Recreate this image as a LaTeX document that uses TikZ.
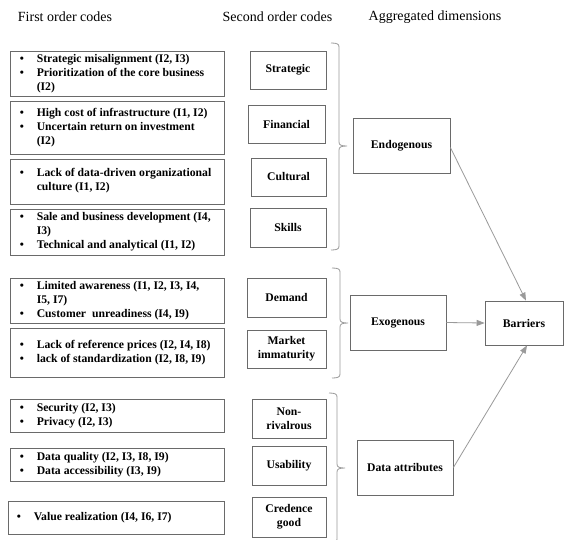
\documentclass[tikz,border=0pt]{standalone}
\usepackage{fontspec}
\setmainfont{Liberation Serif}
\usetikzlibrary{arrows.meta}
\definecolor{boxline}{HTML}{6A6A6A}
\definecolor{linegray}{HTML}{9A9A9A}
\newcommand{\bul}{\makebox[17pt][l]{•}}
\newcommand{\ind}{\hspace*{17pt}}
% brace: #1 = x of vertical line, #2 = top y, #3 = middle y, #4 = bottom y
\newcommand{\mybrace}[4]{%
  \draw[brc] (#1-8,#2) .. controls (#1-2,#2) and (#1,#2+1) .. (#1,#2+4)
    -- (#1,#3-4) .. controls (#1,#3-1) and (#1+2,#3) .. (#1+8,#3)
    .. controls (#1+2,#3) and (#1,#3+1) .. (#1,#3+4)
    -- (#1,#4-4) .. controls (#1,#4-1) and (#1-2,#4) .. (#1-8,#4);}
\begin{document}
\begin{tikzpicture}[x=1pt,y=-1pt,
  box/.style={draw=boxline,line width=0.8pt,inner sep=0pt,rectangle},
  codetext/.style={anchor=west,align=left,inner sep=0pt,font=\fontsize{11.7}{14}\selectfont\bfseries},
  ctr/.style={align=center,font=\fontsize{11.7}{14}\selectfont\bfseries},
  hdr/.style={font=\fontsize{14}{16}\selectfont},
  brc/.style={draw=linegray,line width=0.8pt},
  arr/.style={draw=linegray,line width=0.8pt,-{Triangle[length=8pt,width=6pt]}}]
\useasboundingbox (0,0) rectangle (564,539);
\fill[white] (0,0) rectangle (564,539);

% headers
\node[hdr] (h1) at (65,17) {First order codes};
\node[hdr] (h2) at (277.5,17) {Second order codes};
\node[hdr] (h3) at (435,17) {Aggregated dimensions};

% first order codes
\node[box,minimum width=214,minimum height=45] (f1) at (117,73.5) {};
\node[codetext] (t1) at ([xshift=10]f1.west) {\bul Strategic misalignment (I2, I3)\\\bul Prioritization of the core business\\\ind(I2)};
\node[box,minimum width=214,minimum height=53] (f2) at (117,127.5) {};
\node[codetext] (t2) at ([xshift=10]f2.west) {\bul High cost of infrastructure (I1, I2)\\\bul Uncertain return on investment\\\ind(I2)};
\node[box,minimum width=214,minimum height=45] (f3) at (117,181.5) {};
\node[codetext] (t3) at ([xshift=10,yshift=1]f3.west) {\bul Lack of data-driven organizational\\\ind culture (I1, I2)};
\node[box,minimum width=214,minimum height=46] (f4) at (117,232) {};
\node[codetext] (t4) at ([xshift=10]f4.west) {\bul Sale and business development (I4,\\\ind I3)\\\bul Technical and analytical (I1, I2)};
\node[box,minimum width=214,minimum height=45] (f5) at (117,300.5) {};
\node[codetext] (t5) at ([xshift=10]f5.west) {\bul Limited awareness (I1, I2, I3, I4,\\\ind I5, I7)\\\bul Customer\ \ unreadiness (I4, I9)};
\node[box,minimum width=214,minimum height=49] (f6) at (117,352.5) {};
\node[codetext] (t6) at ([xshift=10]f6.west) {\bul Lack of reference prices (I2, I4, I8)\\\bul lack of standardization (I2, I8, I9)};
\node[box,minimum width=214,minimum height=33] (f7) at (117,415.5) {};
\node[codetext] (t7) at ([xshift=10]f7.west) {\bul Security (I2, I3)\\\bul Privacy (I2, I3)};
\node[box,minimum width=214,minimum height=33] (f8) at (117,464.5) {};
\node[codetext] (t8) at ([xshift=10]f8.west) {\bul Data quality (I2, I3, I8, I9)\\\bul Data accessibility (I3, I9)};
\node[box,minimum width=216,minimum height=33] (f9) at (116,517.5) {};
\node[codetext] (t9) at ([xshift=9]f9.west) {\bul Value realization (I4, I6, I7)};

% second order codes
\node[box,ctr,minimum width=76,minimum height=38] (s1) at (288,70) {Strategic};
\node[box,ctr,minimum width=77,minimum height=38] (s2) at (286.5,124) {Financial};
\node[box,ctr,minimum width=75,minimum height=38] (s3) at (288.5,177) {Cultural};
\node[box,ctr,minimum width=76,minimum height=39] (s4) at (288,227.5) {Skills};
\node[box,ctr,minimum width=79,minimum height=39] (s5) at (286.5,297.5) {Demand};
\node[box,ctr,minimum width=79,minimum height=38] (s6) at (286.5,349) {Market\\immaturity};
\node[box,ctr,minimum width=74,minimum height=39] (s7) at (289,418.5) {Non-\\rivalrous};
\node[box,ctr,minimum width=74,minimum height=39] (s8) at (289,465.5) {Usability};
\node[box,ctr,minimum width=74,minimum height=40] (s9) at (289,517) {Credence\\good};

% braces
\begin{scope}
\clip (0,0) rectangle (564,539);
\mybrace{339}{43}{146}{250}
\mybrace{340}{268}{323}{378}
\mybrace{337}{393}{468}{543}
\end{scope}

% aggregated dimensions
\node[box,ctr,minimum width=97,minimum height=55] (endo) at (401.5,145.5) {Endogenous};
\node[box,ctr,minimum width=96,minimum height=55] (exo) at (398,322.5) {Exogenous};
\node[box,ctr,minimum width=96,minimum height=55] (data) at (405,467.5) {Data attributes};
\node[box,ctr,minimum width=78,minimum height=44] (barr) at (524,323) {Barriers};

% connectors
\draw[arr] ([yshift=-2]endo.east) -- ([xshift=2]barr.north);
\draw[arr] (exo.east) -- (barr.west);
\draw[arr] (data.east) -- ([xshift=3]barr.south);
\end{tikzpicture}
\end{document}
